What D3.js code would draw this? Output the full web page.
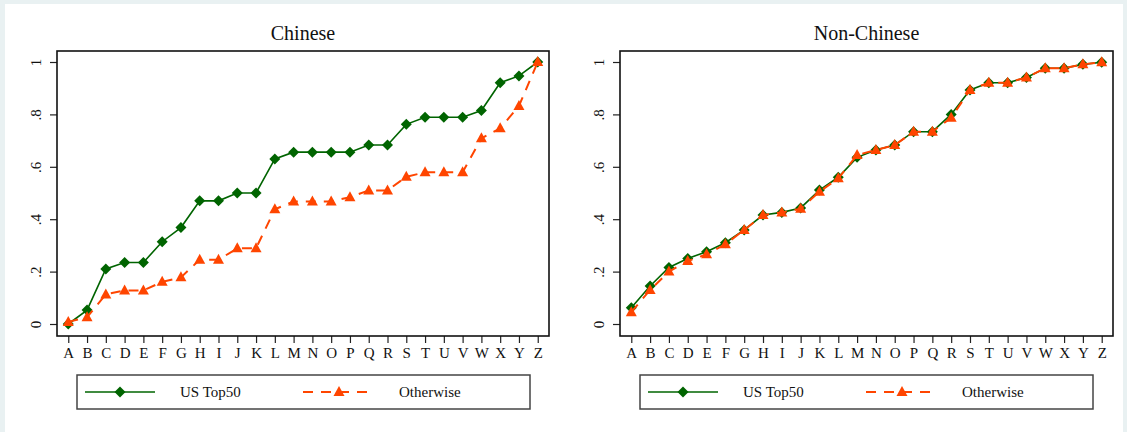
<!DOCTYPE html>
<html>
<head>
<meta charset="utf-8">
<script src="https://cdn.jsdelivr.net/npm/d3@7"></script>
<style>
  html, body { margin: 0; padding: 0; background: #e9f1f2; }
  svg { display: block; }
  text { font-family: "Liberation Serif", "Times New Roman", serif; fill: #111; }
</style>
</head>
<body>
<svg id="chart" width="1127" height="432"></svg>
<script>
// Category labels along the x axis
const categories = "ABCDEFGHIJKLMNOPQRSTUVWXYZ".split("");

// Y axis ticks and their printed labels
const yTicks = [0, 0.2, 0.4, 0.6, 0.8, 1];
const yTickLabels = ["0", ".2", ".4", ".6", ".8", "1"];

// Series names
const seriesNames = ["US Top50", "Otherwise"];
const panelTitles = ["Chinese", "Non-Chinese"];

// Chinese panel
const chineseTop50 = [0, 0.053, 0.21, 0.235, 0.235, 0.314, 0.368, 0.47, 0.47, 0.50, 0.50, 0.63,
  0.656, 0.656, 0.656, 0.656, 0.683, 0.683, 0.762, 0.789, 0.789, 0.789, 0.815, 0.921, 0.947, 1.0];
const chineseOther = [0.008, 0.026, 0.113, 0.128, 0.128, 0.161, 0.178, 0.245, 0.245, 0.289, 0.289, 0.438,
  0.468, 0.468, 0.468, 0.484, 0.51, 0.51, 0.562, 0.579, 0.579, 0.579, 0.709, 0.747, 0.832, 1.0];

// Non-Chinese panel
const nonChineseTop50 = [0.062, 0.145, 0.216, 0.25, 0.276, 0.31, 0.359, 0.416, 0.426, 0.443, 0.511, 0.56,
  0.636, 0.664, 0.683, 0.734, 0.734, 0.80, 0.893, 0.921, 0.921, 0.941, 0.976, 0.976, 0.991, 0.999];
const nonChineseOther = [0.045, 0.13, 0.2, 0.24, 0.266, 0.304, 0.359, 0.416, 0.426, 0.44, 0.505, 0.556,
  0.645, 0.664, 0.683, 0.734, 0.734, 0.787, 0.893, 0.921, 0.921, 0.941, 0.976, 0.976, 0.991, 0.999];

const GREEN = "#006400";
const ORANGE = "#ff4500";

const svg = d3.select("#chart");

// white page area
svg.append("rect").attr("x", 5).attr("y", 4).attr("width", 1118).attr("height", 428).attr("fill", "#fff");

const panels = [
  { title: panelTitles[0], top: chineseTop50, other: chineseOther,
    box: { x0: 57, x1: 549 }, legend: { x0: 77, x1: 530 } },
  { title: panelTitles[1], top: nonChineseTop50, other: nonChineseOther,
    box: { x0: 620, x1: 1113 }, legend: { x0: 640, x1: 1093 } }
];

const boxTop = 51, boxBottom = 336;

const y = d3.scaleLinear().domain([0, 1]).range([324, 62]);

function diamond(g, cx, cy, r) {
  g.append("path")
    .attr("d", `M${cx},${cy - r}L${cx + r},${cy}L${cx},${cy + r}L${cx - r},${cy}Z`)
    .attr("fill", GREEN);
}
function triangle(g, cx, cy, w, h) {
  g.append("path")
    .attr("d", `M${cx},${cy - h * 0.6}L${cx + w / 2},${cy + h * 0.4}L${cx - w / 2},${cy + h * 0.4}Z`)
    .attr("fill", ORANGE);
}

panels.forEach(p => {
  const g = svg.append("g");
  const x = d3.scalePoint().domain(categories).range([p.box.x0, p.box.x1]).padding(0.6);

  // title
  g.append("text")
    .attr("x", (p.box.x0 + p.box.x1) / 2).attr("y", 40)
    .attr("text-anchor", "middle").attr("font-size", 20)
    .text(p.title);

  // y axis
  const yAxis = g.append("g").attr("transform", `translate(${p.box.x0},0)`)
    .call(d3.axisLeft(y).tickValues(yTicks).tickSize(7).tickPadding(0)
      .tickFormat((d, i) => yTickLabels[i]));
  yAxis.select(".domain").remove();
  yAxis.selectAll(".tick line").attr("stroke", "#222").attr("stroke-width", 1.2);
  yAxis.selectAll(".tick text")
    .attr("x", 0).attr("y", 0).attr("dy", 0)
    .attr("transform", "translate(-16,0) rotate(-90)")
    .attr("text-anchor", "middle")
    .attr("font-size", 15)
    .style("font-family", "Liberation Serif, serif")
    .attr("fill", "#111");

  // x axis
  const xAxis = g.append("g").attr("transform", `translate(0,${boxBottom})`)
    .call(d3.axisBottom(x).tickSize(7).tickPadding(4));
  xAxis.select(".domain").remove();
  xAxis.selectAll(".tick line").attr("stroke", "#222").attr("stroke-width", 1.2);
  xAxis.selectAll(".tick text")
    .attr("font-size", 15)
    .style("font-family", "Liberation Serif, serif")
    .attr("fill", "#111");

  // plot frame
  g.append("rect")
    .attr("x", p.box.x0).attr("y", boxTop)
    .attr("width", p.box.x1 - p.box.x0).attr("height", boxBottom - boxTop)
    .attr("fill", "none").attr("stroke", "#111").attr("stroke-width", 1.6);

  const line = d3.line().x((d, i) => x(categories[i])).y(d => y(d));

  // US Top50 series
  g.append("path").datum(p.top).attr("d", line)
    .attr("fill", "none").attr("stroke", GREEN).attr("stroke-width", 1.6);
  p.top.forEach((v, i) => diamond(g, x(categories[i]), y(v), 5.5));

  // Otherwise series
  g.append("path").datum(p.other).attr("d", line)
    .attr("fill", "none").attr("stroke", ORANGE).attr("stroke-width", 2)
    .attr("stroke-dasharray", "10,8");
  p.other.forEach((v, i) => triangle(g, x(categories[i]), y(v), 11, 10));

  // legend
  const lx0 = p.legend.x0, lx1 = p.legend.x1, ly0 = 375, ly1 = 409, lyc = 392;
  g.append("rect")
    .attr("x", lx0).attr("y", ly0).attr("width", lx1 - lx0).attr("height", ly1 - ly0)
    .attr("fill", "#fff").attr("stroke", "#444").attr("stroke-width", 1.5);

  g.append("line")
    .attr("x1", lx0 + 8).attr("x2", lx0 + 78).attr("y1", lyc).attr("y2", lyc)
    .attr("stroke", GREEN).attr("stroke-width", 1.6);
  diamond(g, lx0 + 43, lyc, 5.5);
  g.append("text").attr("x", lx0 + 103).attr("y", lyc + 5)
    .attr("font-size", 15).text(seriesNames[0]);

  const ox0 = lx0 + 226;
  g.append("line")
    .attr("x1", ox0).attr("x2", ox0 + 64).attr("y1", lyc).attr("y2", lyc)
    .attr("stroke", ORANGE).attr("stroke-width", 2).attr("stroke-dasharray", "10,8");
  triangle(g, ox0 + 36, lyc, 11, 10);
  g.append("text").attr("x", lx0 + 322).attr("y", lyc + 5)
    .attr("font-size", 15).text(seriesNames[1]);
});
</script>
</body>
</html>
